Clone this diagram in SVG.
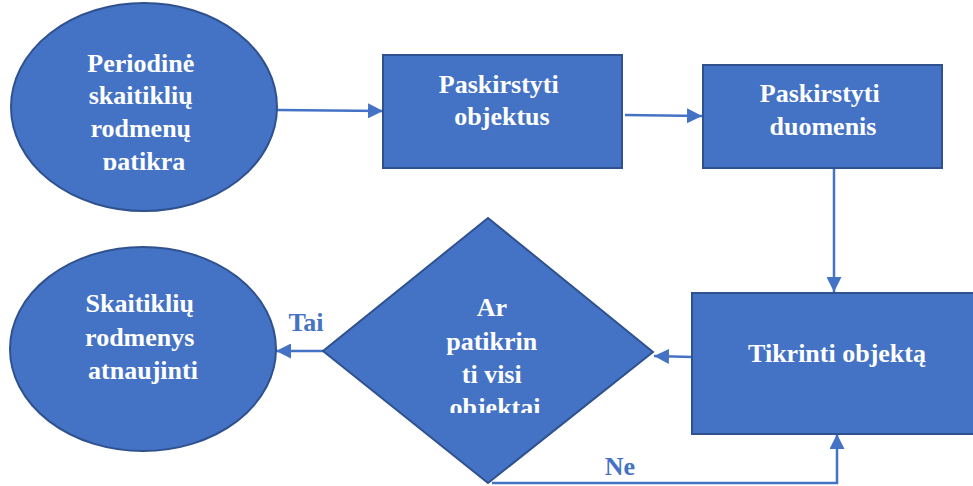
<svg xmlns="http://www.w3.org/2000/svg" width="973" height="486" viewBox="0 0 973 486">
  <style>
    .node { fill: #4472C4; stroke: #2F528F; stroke-width: 2; }
    .lbl { font-family: "Liberation Serif", "Times New Roman", serif; font-weight: bold; font-size: 26px; fill: #FFFFFF; text-anchor: middle; }
    .edge { fill: none; stroke: #4472C4; stroke-width: 2.5; }
    .elbl { font-family: "Liberation Serif", "Times New Roman", serif; font-weight: bold; font-size: 26px; fill: #4472C4; text-anchor: middle; }
  </style>
  <defs>
    <marker id="arrow" viewBox="0 0 10 10" refX="10" refY="5" markerWidth="6" markerHeight="6" markerUnits="strokeWidth" orient="auto">
      <path d="M0,0 L10,5 L0,10 Z" fill="#4472C4"/>
    </marker>
    <clipPath id="clipStart"><rect x="0" y="0" width="300" height="170"/></clipPath>
    <clipPath id="clipDecision"><rect x="320" y="200" width="340" height="213"/></clipPath>
  </defs>
  <rect width="973" height="486" fill="#FFFFFF"/>

  <g id="connectors">
    <line class="edge" x1="277" y1="110" x2="383" y2="111" marker-end="url(#arrow)"/>
    <line class="edge" x1="625" y1="115" x2="702" y2="116" marker-end="url(#arrow)"/>
    <line class="edge" x1="834" y1="169" x2="834" y2="292" marker-end="url(#arrow)"/>
    <line class="edge" x1="692" y1="357" x2="654" y2="356" marker-end="url(#arrow)"/>
    <line class="edge" x1="323" y1="351" x2="276" y2="351" marker-end="url(#arrow)"/>
    <polyline class="edge" points="492,483 837,483 837,434" marker-end="url(#arrow)"/>
    <text class="elbl" x="306" y="331">Tai</text>
    <text class="elbl" x="620" y="475">Ne</text>
  </g>

  <g id="start">
    <ellipse class="node" cx="144" cy="107" rx="133" ry="104"/>
    <text class="lbl" clip-path="url(#clipStart)">
      <tspan x="144" y="72">Periodinė</tspan>
      <tspan x="144" y="104">skaitiklių</tspan>
      <tspan x="144" y="137">rodmenų</tspan>
      <tspan x="144" y="170">patikra</tspan>
    </text>
  </g>

  <g id="assignObjects">
    <rect class="node" x="383" y="55" width="239" height="113"/>
    <text class="lbl">
      <tspan x="502" y="93">Paskirstyti</tspan>
      <tspan x="502" y="125">objektus</tspan>
    </text>
  </g>

  <g id="assignData">
    <rect class="node" x="703" y="65" width="239" height="103"/>
    <text class="lbl">
      <tspan x="823" y="102">Paskirstyti</tspan>
      <tspan x="823" y="135">duomenis</tspan>
    </text>
  </g>

  <g id="checkObject">
    <rect class="node" x="692" y="293" width="292" height="141"/>
    <text class="lbl" x="837" y="362">Tikrinti objektą</text>
  </g>

  <g id="decision">
    <polygon class="node" points="488,218 653,352 488,483 323,351"/>
    <text class="lbl" clip-path="url(#clipDecision)">
      <tspan x="495" y="316">Ar</tspan>
      <tspan x="495" y="350">patikrin</tspan>
      <tspan x="495" y="383">ti visi</tspan>
      <tspan x="495" y="416">objektai</tspan>
    </text>
  </g>

  <g id="end">
    <ellipse class="node" cx="143" cy="349" rx="133" ry="102"/>
    <text class="lbl">
      <tspan x="143" y="312">Skaitiklių</tspan>
      <tspan x="143" y="346">rodmenys</tspan>
      <tspan x="143" y="379">atnaujinti</tspan>
    </text>
  </g>
</svg>
